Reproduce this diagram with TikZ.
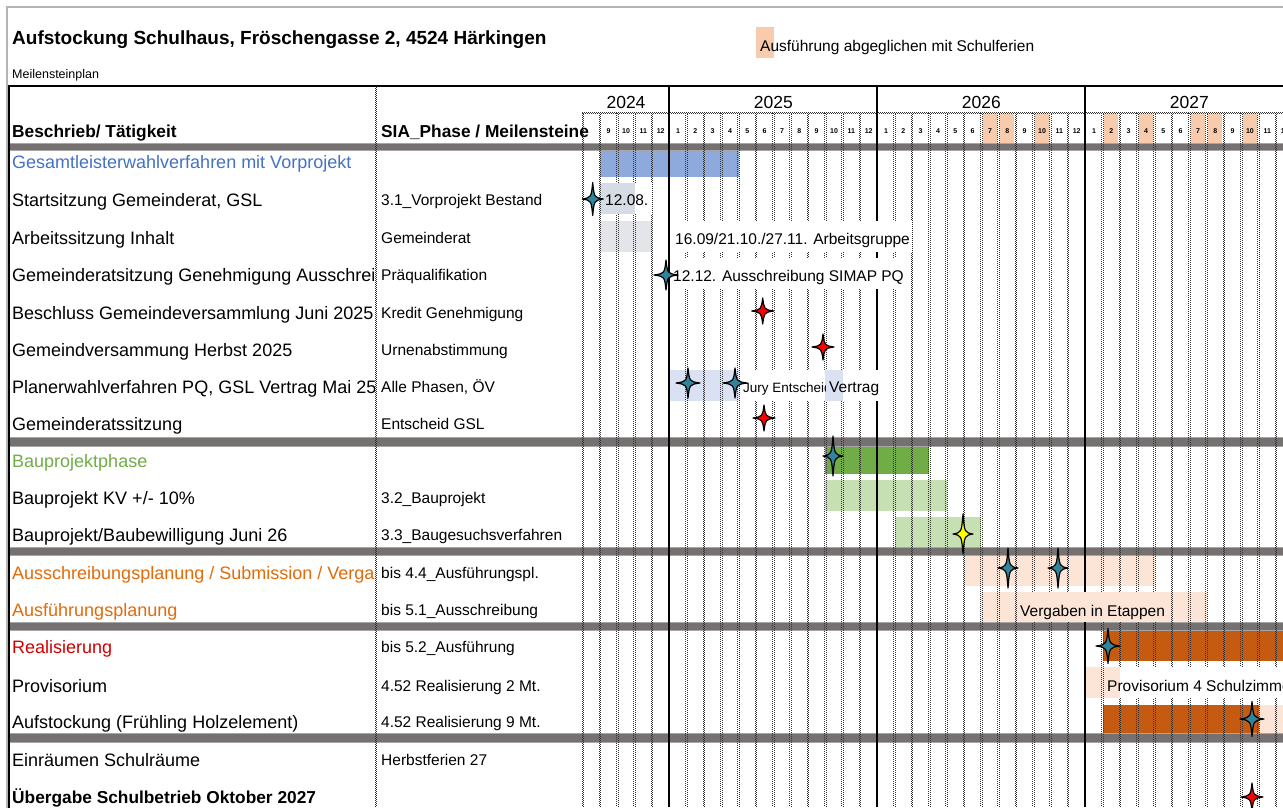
\documentclass[tikz,border=0pt]{standalone}
\usepackage{fontspec}
\setmainfont{Liberation Sans}
\definecolor{fblue}{HTML}{8EA9DB}
\definecolor{fgreyblue}{HTML}{D6DCE4}
\definecolor{fgrey}{HTML}{E4E5E8}
\definecolor{flblue}{HTML}{D9E1F2}
\definecolor{fgreen}{HTML}{70AD47}
\definecolor{flgreen}{HTML}{C6E0B4}
\definecolor{fpeach}{HTML}{FCE4D6}
\definecolor{fpeachd}{HTML}{F8CBAD}
\definecolor{forange}{HTML}{C55A11}
\definecolor{sepdark}{HTML}{767171}
\definecolor{seplight}{HTML}{A6A6A6}
\definecolor{tblue}{HTML}{4472C4}
\definecolor{tgreen}{HTML}{70AD47}
\definecolor{torange}{HTML}{E26B0A}
\definecolor{tred}{HTML}{D00000}
\definecolor{steal}{HTML}{31849B}
\definecolor{sred}{HTML}{FF0000}
\definecolor{syellow}{HTML}{FFFF00}
\definecolor{framegrey}{HTML}{B4B4B4}
\def\MW{17.333}
\tikzset{
  pics/mstar/.style n args={3}{code={
    \draw[black,line width=1.2pt,fill=#1,line join=round]
      (0,-#2) .. controls (1.5,-1.5) .. (#3,0) .. controls (1.5,1.5) .. (0,#2)
      .. controls (-1.5,1.5) .. (-#3,0) .. controls (-1.5,-1.5) .. (0,-#2) -- cycle;
  }},
  gridA/.style={line width=0.9pt,black!80,dash pattern=on 1pt off 1pt},
  gridB/.style={line width=0.9pt,black!80,dash pattern=on 1pt off 1pt,dash phase=1pt},
  colone/.style={anchor=base west,inner sep=0pt,font=\fontsize{18}{20}\selectfont},
  coltwo/.style={anchor=base west,inner sep=0pt,font=\fontsize{15.5}{18}\selectfont},
  charttext/.style={anchor=base west,inner sep=0pt,font=\fontsize{15.5}{18}\selectfont},
  headtext/.style={anchor=base west,inner sep=0pt,font=\bfseries\fontsize{17.3}{20}\selectfont},
  yeartext/.style={anchor=base,inner sep=0pt,font=\fontsize{17.5}{20}\selectfont},
  monthtext/.style={anchor=base,inner sep=0pt,font=\bfseries\fontsize{7}{8}\selectfont},
  sepband/.style={fill=seplight},
  sepcore/.style={fill=sepdark},
}
\begin{document}
\begin{tikzpicture}[x=1pt,y=-1pt]
\useasboundingbox (0,0) rectangle (1283,807);
\clip (0,0) rectangle (1283,807);
\fill[white] (0,0) rectangle (1283,807);
% outer frame
\draw[framegrey,line width=1.2pt] (7,815) -- (7,7) -- (1295,7);
% title and legend
\node[anchor=base west,inner sep=0pt,font=\bfseries\fontsize{19}{22}\selectfont] (title) at (12,44.5) {Aufstockung Schulhaus, Fröschengasse 2, 4524 Härkingen};
\node[anchor=base west,inner sep=0pt,font=\fontsize{12.5}{15}\selectfont] (sub) at (12,78.5) {Meilensteinplan};
\fill[fpeachd] (756,27) rectangle (774,58);
\node[charttext] (legend) at (760,51.5) {Ausführung abgeglichen mit Schulferien};
% header peach month cells
\foreach \k in {22,23,25,29,31,34,35,37}
  \fill[fpeachd] ({600+\MW*\k+1.6},114) rectangle ({600+\MW*(\k+1)-1.6},143);
% bars
\fill[fblue] (600,151) rectangle ({600+\MW*8},177);
\fill[fgreyblue] (600,183.4) rectangle ({600+\MW*2},214.4);
\fill[fgrey] (600,220.8) rectangle ({600+\MW*3},251.8);
\fill[flblue] ({600+\MW*4},370.4) rectangle ({600+\MW*8},401.4);
\fill[flblue] ({600+\MW*13},370.4) rectangle ({600+\MW*14},401.4);
\fill[fgreen] ({600+\MW*13},447) rectangle ({600+\MW*19},474);
\fill[flgreen] ({600+\MW*13},480) rectangle ({600+\MW*20},511);
\fill[flgreen] ({600+\MW*17},517) rectangle ({600+\MW*22},547);
\fill[fpeach] ({600+\MW*21},556) rectangle ({600+\MW*32},586);
\fill[fpeach] ({600+\MW*22},592) rectangle ({600+\MW*35},622);
\fill[forange] ({600+\MW*29},631) rectangle (1290,661);
\fill[fpeach] ({600+\MW*28},667) rectangle ({600+\MW*30},698);
\fill[forange] ({600+\MW*29},705) rectangle ({600+\MW*38},733);
\fill[fpeach] ({600+\MW*38},705) rectangle (1290,733);
% separator bands
\foreach \a/\b in {143/151,437/447,547/556,622/631,733/743}{
  \fill[sepband] (9,\a) rectangle (1290,\b);
  \fill[sepcore] (9,\a+1.3) rectangle (1290,\b-1.3);
}
% grid
\foreach \k in {0,...,39}{
  \ifnum\k=4 \else\ifnum\k=16 \else\ifnum\k=28 \else
    \draw[gridA] ({600+\MW*\k-0.8},113) -- ({600+\MW*\k-0.8},807);
    \draw[gridB] ({600+\MW*\k+0.8},113) -- ({600+\MW*\k+0.8},807);
  \fi\fi\fi
}
\draw[gridA] (375.2,86) -- (375.2,807);
\draw[gridB] (376.8,86) -- (376.8,807);
\draw[gridA] (582.2,113) -- (582.2,807);
\draw[gridB] (583.8,113) -- (583.8,807);
\draw[gridA] (582,112.2) -- (1290,112.2);
\draw[gridB] (582,113.8) -- (1290,113.8);
\foreach \k in {4,16,28}
  \draw[line width=2.2pt] ({600+\MW*\k},86) -- ({600+\MW*\k},807);
\draw[line width=2.5pt] (7.8,86) -- (1290,86);
\draw[line width=2.5pt] (9,86) -- (9,810);
% header texts
\node[headtext] (h1) at (12,137) {Beschrieb/ Tätigkeit};
\node[headtext] (h2) at (381,137) {SIA\_Phase / Meilensteine};
\node[yeartext] (y24) at (626,108) {2024};
\node[yeartext] (y25) at ({600+\MW*10},108) {2025};
\node[yeartext] (y26) at ({600+\MW*22},108) {2026};
\node[yeartext] (y27) at ({600+\MW*34},108) {2027};
\foreach \k in {0,...,39}{
  \pgfmathtruncatemacro\m{mod(\k+8,12)+1}
  \node[monthtext] (m\k) at ({600+\MW*\k+\MW/2},133.5) {\m};
}
% text covers
\fill[fgreyblue] (602,183.4) rectangle ({600+\MW*2},214.4);
\fill[white] ({600+\MW*2},183.4) rectangle (652,214.4);
\fill[white] (672,220.8) rectangle (912,251.8);
\fill[white] (672,258.2) rectangle (905,289.2);
\fill[white] (740,370.4) rectangle ({600+\MW*13},401.4);
\fill[flblue] ({600+\MW*13},370.4) rectangle ({600+\MW*14},401.4);
\fill[white] ({600+\MW*14},370.4) rectangle (886,401.4);
\fill[fpeach] (1017,592) rectangle (1168,622);
\fill[fpeach] (1104,667) rectangle ({600+\MW*30},698);
\fill[white] ({600+\MW*30},667) rectangle (1290,698);
% column 1 texts
\begin{scope}
\clip (10,150) rectangle (374.5,807);
\node[colone,text=tblue] (t1) at (12,168) {Gesamtleisterwahlverfahren mit Vorprojekt};
\node[colone] (t2) at (12,206) {Startsitzung Gemeinderat, GSL};
\node[colone] (t3) at (12,244) {Arbeitssitzung Inhalt};
\node[colone] (t4) at (12,281) {Gemeinderatsitzung Genehmigung Ausschrei};
\node[colone] (t5) at (12,319) {Beschluss Gemeindeversammlung Juni 2025};
\node[colone] (t6) at (12,356) {Gemeindversammung Herbst 2025};
\node[colone] (t7) at (12,393) {Planerwahlverfahren PQ, GSL Vertrag Mai 25};
\node[colone] (t8) at (12,430) {Gemeinderatssitzung};
\node[colone,text=tgreen] (t9) at (12,467) {Bauprojektphase};
\node[colone] (t10) at (12,504) {Bauprojekt KV +/- 10\%};
\node[colone] (t11) at (12,541) {Bauprojekt/Baubewilligung Juni 26};
\node[colone,text=torange] (t12) at (12,579) {Ausschreibungsplanung / Submission / Verga};
\node[colone,text=torange] (t13) at (12,616) {Ausführungsplanung};
\node[colone,text=tred] (t14) at (12,653) {Realisierung};
\node[colone] (t15) at (12,692) {Provisorium};
\node[colone] (t16) at (12,728) {Aufstockung (Frühling Holzelement)};
\node[colone] (t17) at (12,766) {Einräumen Schulräume};
\node[colone,font=\bfseries\fontsize{17.3}{19}\selectfont] (t18) at (12,803) {Übergabe Schulbetrieb Oktober 2027};
\end{scope}
% column 2 texts
\node[coltwo] (p2) at (381,205) {3.1\_Vorprojekt Bestand};
\node[coltwo] (p3) at (381,243) {Gemeinderat};
\node[coltwo] (p4) at (381,280) {Präqualifikation};
\node[coltwo] (p5) at (381,318) {Kredit Genehmigung};
\node[coltwo] (p6) at (381,355) {Urnenabstimmung};
\node[coltwo] (p7) at (381,392) {Alle Phasen, ÖV};
\node[coltwo] (p8) at (381,429) {Entscheid GSL};
\node[coltwo] (p10) at (381,503) {3.2\_Bauprojekt};
\node[coltwo] (p11) at (381,540) {3.3\_Baugesuchsverfahren};
\node[coltwo] (p12) at (381,578) {bis 4.4\_Ausführungspl.};
\node[coltwo] (p13) at (381,615) {bis 5.1\_Ausschreibung};
\node[coltwo] (p14) at (381,652) {bis 5.2\_Ausführung};
\node[coltwo] (p15) at (381,691) {4.52 Realisierung 2 Mt.};
\node[coltwo] (p16) at (381,727) {4.52 Realisierung 9 Mt.};
\node[coltwo] (p17) at (381,765) {Herbstferien 27};
% chart texts
\node[charttext] (c2) at (605,205.5) {12.08.};
\node[charttext] (c3) at (675,244.5) {16.09/21.10./27.11. Arbeitsgruppe};
\node[charttext] (c4) at (673,281.5) {12.12. Ausschreibung SIMAP PQ};
\begin{scope}
\clip (740,370) rectangle ({600+\MW*13},402);
\node[anchor=base west,inner sep=0pt,font=\fontsize{13.5}{16}\selectfont] (c7a) at (743,392) {Jury Entscheid};
\end{scope}
\node[charttext] (c7b) at (829,392.5) {Vertrag};
\node[charttext] (c13) at (1020,616.5) {Vergaben in Etappen};
\node[charttext] (c15) at (1107,691.5) {Provisorium 4 Schulzimme};
% milestones
\pic at (592.7,199) {mstar={steal}{16.5}{10.5}};
\pic at (666,275) {mstar={steal}{15}{12}};
\pic at (762.7,311) {mstar={sred}{13}{11}};
\pic at (823,347) {mstar={sred}{13}{11}};
\pic at (688,383) {mstar={steal}{15}{12}};
\pic at (735,383) {mstar={steal}{15}{12}};
\pic at (764,418) {mstar={sred}{13}{11}};
\pic at (833,456) {mstar={steal}{20}{10}};
\pic at (963,534) {mstar={syellow}{20}{10}};
\pic at (1008,568) {mstar={steal}{20}{10}};
\pic at (1058,568) {mstar={steal}{20}{10}};
\pic at (1108,646) {mstar={steal}{17.5}{12}};
\pic at (1252,719) {mstar={steal}{17.5}{12}};
\pic at (1252,797) {mstar={sred}{14}{11}};
\end{tikzpicture}
\end{document}
